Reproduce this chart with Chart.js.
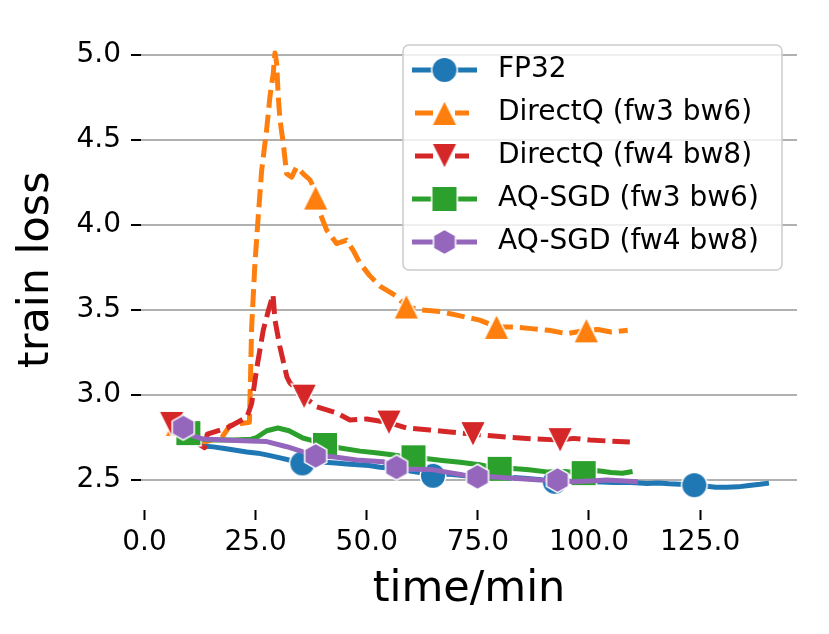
<!DOCTYPE html>
<html>
<head>
<meta charset="utf-8">
<script src="https://cdn.jsdelivr.net/npm/chart.js@4.4.1/dist/chart.umd.min.js"></script>
<style>
  html, body { margin: 0; padding: 0; background: #fff; }
  #wrap { width: 829px; height: 634px; position: relative; }
</style>
</head>
<body>
<div id="wrap"><canvas id="lossChart"></canvas></div>
<script>
// tick labels
const xTicks = [0, 25, 50, 75, 100, 125];
const yTicks = [2.5, 3.0, 3.5, 4.0, 4.5, 5.0];

// FP32
const fp32Time = [9.85, 11.5, 13, 15.5, 18, 20.5, 23, 25.5, 28, 30.5, 33, 35.5, 38, 40.5, 43, 45.5, 48, 50.5, 53,
  55.5, 58, 60.5, 63, 64.9, 68, 70.5, 73, 75.5, 78, 80.5, 83, 85.5, 88, 90.5, 92.3, 95.5, 98, 100.5, 103,
  105.5, 108, 110.5, 113, 115.5, 118, 120.5, 123.7, 126, 128.5, 131, 133.5, 136, 138.5, 140.5];
const fp32Loss = [2.776, 2.725, 2.70, 2.695, 2.685, 2.675, 2.665, 2.658, 2.645, 2.63, 2.615, 2.598, 2.61, 2.605, 2.60, 2.595, 2.59, 2.585, 2.575,
  2.57, 2.56, 2.55, 2.54, 2.525, 2.535, 2.53, 2.522, 2.525, 2.518, 2.515, 2.515, 2.51, 2.505, 2.50, 2.49, 2.495, 2.49, 2.49, 2.488,
  2.485, 2.487, 2.484, 2.48, 2.482, 2.478, 2.476, 2.47, 2.465, 2.458, 2.458, 2.46, 2.468, 2.475, 2.482];
const fp32Marks = [9.85, 35.5, 64.9, 92.3, 123.7];

// DirectQ (fw3 bw6)
const dq36Time = [7.4, 10.0, 13.6, 17.4, 19.2, 23.6, 24.1, 24.84, 25.58, 26.35, 27.47, 28.22, 28.96, 29.34, 29.72, 30.08, 30.46, 31.2, 31.97, 33.1,
  34.2, 35.7, 37.2, 37.95, 38.5, 39.45, 40.96, 43.2, 45.46, 46.94, 48.45, 50.7, 52.95, 56.7, 58.9, 62, 66.5, 71, 75.4, 79.2,
  83, 87, 91, 95, 99.4, 102, 105, 108.7];
const dq36Loss = [2.83, 2.77, 2.725, 2.75, 2.82, 2.84, 3.40, 3.775, 4.05, 4.32, 4.56, 4.755, 4.89, 5.01, 4.95, 4.755, 4.62, 4.48, 4.30, 4.28,
  4.34, 4.30, 4.265, 4.225, 4.16, 4.07, 3.97, 3.89, 3.91, 3.85, 3.775, 3.70, 3.64, 3.58, 3.52, 3.50, 3.49, 3.465, 3.44, 3.40,
  3.40, 3.39, 3.38, 3.36, 3.38, 3.385, 3.37, 3.38];
const dq36Marks = [7.4, 38.5, 58.9, 79.2, 99.4];

// DirectQ (fw4 bw8)
const dq48Time = [6.1, 9.5, 13.5, 14.1, 18.55, 23.04, 24.1, 25.2, 26.7, 27.9, 28.9, 29.34, 30.46, 32.03, 32.7, 35.9, 38.78, 43.28, 46.2, 50.0,
  55.0, 59.0, 64.2, 68.7, 73.9, 78, 81.5, 88.2, 93.5, 96.5, 100.2, 104.6, 109.2];
const dq48Loss = [2.83, 2.76, 2.69, 2.77, 2.806, 2.87, 2.95, 3.15, 3.38, 3.50, 3.59, 3.441, 3.282, 3.106, 3.071, 2.99, 2.93, 2.894, 2.853, 2.859,
  2.838, 2.806, 2.794, 2.782, 2.77, 2.76, 2.753, 2.741, 2.735, 2.745, 2.735, 2.729, 2.724];
const dq48Marks = [6.1, 35.9, 55.0, 73.9, 93.5];

// AQ-SGD (fw3 bw6)
const aq36Time = [9.85, 12.5, 16, 20, 24, 25.2, 27.5, 30, 32.5, 35.6, 38, 40.6, 44, 48.5, 52, 55.2, 58, 60.5, 63.7, 67,
  71, 75.4, 78, 79.9, 82.9, 86.5, 90.5, 94.5, 98.8, 102, 105, 107.5, 109.8];
const aq36Loss = [2.776, 2.74, 2.735, 2.735, 2.74, 2.75, 2.79, 2.806, 2.79, 2.747, 2.73, 2.706, 2.688, 2.67, 2.66, 2.65, 2.64, 2.634, 2.625, 2.615,
  2.605, 2.59, 2.575, 2.566, 2.568, 2.56, 2.548, 2.55, 2.541, 2.555, 2.545, 2.54, 2.55];
const aq36Marks = [9.85, 40.6, 60.5, 79.9, 98.8];

// AQ-SGD (fw4 bw8)
const aq48Time = [8.7, 10.9, 13.2, 18, 23.7, 27.5, 32, 35.7, 38.5, 42.4, 47.7, 53.6, 56.7, 59.7, 65, 71.7, 74.9, 78, 83, 89,
  92.9, 96.4, 100, 104, 108, 111];
const aq48Loss = [2.809, 2.76, 2.741, 2.735, 2.73, 2.726, 2.696, 2.666, 2.642, 2.637, 2.618, 2.608, 2.574, 2.565, 2.56, 2.53, 2.519, 2.52, 2.51, 2.50,
  2.50, 2.49, 2.495, 2.50, 2.495, 2.49];
const aq48Marks = [8.7, 38.5, 56.7, 74.9, 92.9];

const LINE_W = 5;
const DASH = [18, 7];

// marker glyphs like matplotlib's o ^ v s h, white edge
function makeMarker(shape, color) {
  const s = 32, c = s / 2, m = 25.5, h = m / 2;
  const cv = document.createElement("canvas");
  cv.width = s;
  cv.height = s;
  const g = cv.getContext("2d");
  g.beginPath();
  if (shape === "circle") {
    g.arc(c, c, h, 0, Math.PI * 2);
  } else if (shape === "square") {
    g.rect(c - h, c - h, m, m);
  } else if (shape === "up") {
    g.moveTo(c, c - h); g.lineTo(c + h, c + h); g.lineTo(c - h, c + h);
  } else if (shape === "down") {
    g.moveTo(c, c + h); g.lineTo(c - h, c - h); g.lineTo(c + h, c - h);
  } else if (shape === "hex") {
    for (let k = 0; k < 6; k++) {
      const a = -Math.PI / 2 + k * Math.PI / 3;
      const px = c + h * Math.cos(a), py = c + h * Math.sin(a);
      if (k === 0) g.moveTo(px, py); else g.lineTo(px, py);
    }
  }
  g.closePath();
  g.fillStyle = color;
  g.fill();
  g.strokeStyle = "#ffffff";
  g.lineWidth = 1.5;
  g.stroke();
  return cv;
}

const series = [
  { label: "FP32", time: fp32Time, loss: fp32Loss, marks: fp32Marks, color: "#1f77b4", shape: "circle", dashed: false },
  { label: "DirectQ (fw3 bw6)", time: dq36Time, loss: dq36Loss, marks: dq36Marks, color: "#ff7f0e", shape: "up", dashed: true },
  { label: "DirectQ (fw4 bw8)", time: dq48Time, loss: dq48Loss, marks: dq48Marks, color: "#d62728", shape: "down", dashed: true },
  { label: "AQ-SGD (fw3 bw6)", time: aq36Time, loss: aq36Loss, marks: aq36Marks, color: "#2ca02c", shape: "square", dashed: false },
  { label: "AQ-SGD (fw4 bw8)", time: aq48Time, loss: aq48Loss, marks: aq48Marks, color: "#9467bd", shape: "hex", dashed: false }
];

const datasets = series.map((s, i) => {
  const marker = makeMarker(s.shape, s.color);
  return {
    label: s.label,
    data: s.time.map((t, j) => ({ x: t, y: s.loss[j] })),
    borderColor: s.color,
    backgroundColor: s.color,
    borderWidth: LINE_W,
    borderDash: s.dashed ? DASH : [],
    borderJoinStyle: "round",
    tension: 0,
    fill: false,
    pointStyle: marker,
    pointRadius: ctx => (ctx.raw && s.marks.includes(ctx.raw.x) ? 13 : 0),
    order: series.length - i,
    _marker: marker,
    _dashed: s.dashed
  };
});

function roundBox(ctx, x, y, w, h, r) {
  ctx.beginPath();
  ctx.moveTo(x + r, y);
  ctx.arcTo(x + w, y, x + w, y + h, r);
  ctx.arcTo(x + w, y + h, x, y + h, r);
  ctx.arcTo(x, y + h, x, y, r);
  ctx.arcTo(x, y, x + w, y, r);
  ctx.closePath();
}

// legend drawn like matplotlib: line + marker + label in a framed box
const legendBox = {
  id: "legendBox",
  afterDraw(chart) {
    const ctx = chart.ctx;
    ctx.save();
    ctx.setLineDash([]);
    roundBox(ctx, 403, 45, 379, 225, 6);
    ctx.fillStyle = "rgba(255,255,255,0.8)";
    ctx.fill();
    ctx.strokeStyle = "#cccccc";
    ctx.lineWidth = 1.5;
    ctx.stroke();

    chart.data.datasets.forEach((ds, i) => {
      const y = 70 + i * 43;
      ctx.strokeStyle = ds.borderColor;
      ctx.lineWidth = LINE_W;
      ctx.lineCap = "butt";
      ctx.beginPath();
      if (ds._dashed) {
        ctx.moveTo(415, y); ctx.lineTo(433, y);
        ctx.moveTo(455, y); ctx.lineTo(469, y);
      } else {
        ctx.moveTo(412, y); ctx.lineTo(477, y);
      }
      ctx.stroke();
      const mk = ds._marker;
      ctx.drawImage(mk, 444.5 - mk.width / 2, y - mk.height / 2);

      ctx.fillStyle = "#000";
      ctx.font = '28px "DejaVu Sans"';
      ctx.textAlign = "left";
      ctx.textBaseline = "middle";
      ctx.fillText(ds.label, 498, y);
    });
    ctx.restore();
  }
};

Chart.defaults.font.family = '"DejaVu Sans", sans-serif';
Chart.defaults.color = "#000";

new Chart(document.getElementById("lossChart"), {
  type: "line",
  data: { datasets },
  options: {
    responsive: true,
    maintainAspectRatio: false,
    animation: false,
    events: [],
    layout: { padding: { top: 29.5, right: 32, left: 0, bottom: 0 } },
    plugins: {
      legend: { display: false },
      tooltip: { enabled: false }
    },
    scales: {
      x: {
        type: "linear",
        min: -0.8,
        max: 146.8,
        afterBuildTicks: scale => { scale.ticks = xTicks.map(v => ({ value: v })); },
        afterFit: scale => { scale.height = 124; },
        border: { display: false },
        grid: { drawOnChartArea: false, tickLength: 10, tickWidth: 2, tickColor: "#000" },
        ticks: {
          padding: 6,
          color: "#000",
          font: { size: 28 },
          maxRotation: 0,
          autoSkip: false,
          callback: v => v.toFixed(1)
        },
        title: {
          display: true,
          text: "time/min",
          color: "#000",
          font: { size: 43 },
          padding: { top: 0, bottom: 18 }
        }
      },
      y: {
        type: "linear",
        min: 2.324,
        max: 5.148,
        afterBuildTicks: scale => { scale.ticks = yTicks.map(v => ({ value: v })); },
        afterFit: scale => { scale.width = 141; },
        border: { display: false },
        grid: { color: "#b0b0b0", lineWidth: 2, tickLength: 10, tickWidth: 2, tickColor: "#000" },
        ticks: {
          padding: 10,
          color: "#000",
          font: { size: 28 },
          autoSkip: false,
          callback: v => v.toFixed(1)
        },
        title: {
          display: true,
          text: "train loss",
          color: "#000",
          font: { size: 43 },
          padding: { top: 11, bottom: 0 }
        }
      }
    }
  },
  plugins: [legendBox]
});
</script>
</body>
</html>
